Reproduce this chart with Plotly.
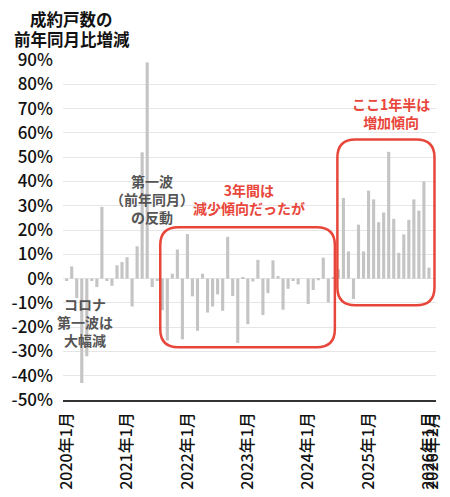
import plotly.graph_objs as go

# months 2020-01 .. 2026-01
months = [f"{y}年{m}月" for y in range(2020, 2027) for m in range(1, 13)][:73]

# 成約戸数 前年同月比 (%)
yoy = [
    -1.0, 5.0, -8.0, -43.0, -32.0, -1.0, -3.5, 29.5, -1.0, -3.0, 5.5, 6.8,
    8.8, -11.5, 13.3, 52.0, 89.0, -3.5, -1.0, -13.0, -25.5, 2.0, 12.0, -25.0,
    18.3, -7.3, -21.5, 2.0, -14.0, -11.5, -6.5, -13.3, 17.2, -7.2, -26.5, 0.5,
    -18.8, -1.2, 7.7, -15.0, -6.0, 7.5, 1.0, -12.8, -4.2, -1.0, -2.4, 0.0,
    -10.5, -4.7, -0.7, 8.6, -9.8, 0.5, 3.8, 33.2, 11.2, -8.4, 22.2, 11.2,
    36.2, 32.6, 23.2, 27.2, 52.2, 24.6, 10.6, 18.2, 24.2, 32.6, 28.0, 40.0,
    4.5,
]

x_idx = list(range(len(yoy)))

y_ticks = list(range(-50, 91, 10))
y_ticktext = [f"{v}%" for v in y_ticks]

x_ticks = [0, 12, 24, 36, 48, 60, 72, 72.8]
x_ticktext = ["2020年1月", "2021年1月", "2022年1月", "2023年1月",
              "2024年1月", "2025年1月", "2026年1月", "2026年2月"]

title_lines = ["成約戸数の", "前年同月比増減"]

FONT = "Noto Sans CJK JP"
RED = "#e8463a"
GRAY_TXT = "#555555"


def rounded_box(x0, x1, y0, y1, rx, ry):
    return (f"M {x0+rx},{y1} L {x1-rx},{y1} Q {x1},{y1} {x1},{y1-ry} "
            f"L {x1},{y0+ry} Q {x1},{y0} {x1-rx},{y0} "
            f"L {x0+rx},{y0} Q {x0},{y0} {x0},{y0+ry} "
            f"L {x0},{y1-ry} Q {x0},{y1} {x0+rx},{y1} Z")


fig = go.Figure()
fig.add_trace(go.Bar(x=x_idx, y=yoy, marker_color="#c4c4c4",
                     marker_line_width=0, hovertext=months))

fig.add_shape(type="path", path=rounded_box(18.6, 53.3, -28.3, 21.1, 3.6, 7.4),
              line=dict(color=RED, width=2.5), layer="above")
fig.add_shape(type="path", path=rounded_box(53.8, 73.1, -11.0, 57.3, 3.6, 7.4),
              line=dict(color=RED, width=2.5), layer="above")

anns = [
    dict(x=3.6, y=-18.0, text="コロナ<br>第一波は<br>大幅減", color=GRAY_TXT),
    dict(x=17.0, y=32.6, text="第一波<br>（前年同月）<br>の反動", color=GRAY_TXT),
    dict(x=36.2, y=32.6, text="3年間は<br>減少傾向だったが", color=RED),
    dict(x=64.5, y=68.0, text="ここ1年半は<br>増加傾向", color=RED),
]
for a in anns:
    fig.add_annotation(x=a["x"], y=a["y"], text=f"<b>{a['text']}</b>", showarrow=False,
                       font=dict(family=FONT, size=14, color=a["color"]),
                       xanchor="center", yanchor="middle", align="center")

# title, one annotation per line
for line, ypos in zip(title_lines, [1.122, 1.063]):
    fig.add_annotation(xref="paper", yref="paper", x=0.024, y=ypos,
                       text=f"<b>{line}</b>", showarrow=False,
                       font=dict(family=FONT, size=16.5, color="#111111"), borderpad=0,
                       xanchor="center", yanchor="middle", align="center")

# page adds an 8px body margin, so the figure is drawn 8px smaller
fig.update_layout(
    width=442, height=489,
    margin=dict(l=55, r=14, t=52, b=97, autoexpand=False),
    plot_bgcolor="white", paper_bgcolor="white",
    bargap=0.38, showlegend=False,
    font=dict(family=FONT, color="#111111"),
    xaxis=dict(range=[-0.73, 73.4], tickvals=x_ticks, ticktext=x_ticktext,
               tickangle=-90, tickfont=dict(size=16, color="#111111", weight=500),
               showgrid=False, showline=True, linecolor="#333333", linewidth=1.5,
               ticks="", zeroline=False, automargin=False, ticklabelstandoff=4),
    yaxis=dict(range=[-50, 90], tickvals=y_ticks, ticktext=y_ticktext,
               tickfont=dict(size=17, color="#111111", weight=500), gridcolor="#e6e6e6",
               gridwidth=1, zeroline=False, ticks="", ticklabelstandoff=9,
               automargin=False),
)

fig.write_html("out.html")
